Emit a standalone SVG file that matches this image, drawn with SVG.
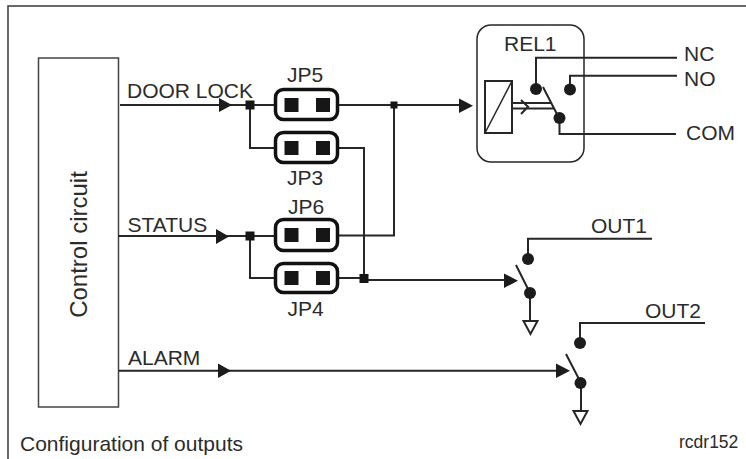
<svg xmlns="http://www.w3.org/2000/svg" width="746" height="459" viewBox="0 0 746 459">
<style>
text{font-family:"Liberation Sans",Arial,sans-serif;fill:#2b2b2b;font-size:21px}
.w{fill:none;stroke:#262626;stroke-width:2}
.t{fill:none;stroke:#262626;stroke-width:1.5}
.j{fill:none;stroke:#111;stroke-width:3.5}
.p{fill:#161616}
.a{fill:#1c1c1c}
.d{fill:#1c1c1c}
</style>
<rect width="746" height="459" fill="#fff"/>
<rect id="frame" x="8" y="6" width="760" height="480" fill="none" stroke="#444" stroke-width="1.6"/>
<g id="control"><rect x="38.500" y="58" width="80" height="349" fill="#fff" stroke="#444" stroke-width="1.5"/>
<text transform="translate(87,244.500) rotate(-90)" text-anchor="middle" style="font-size:24px">Control circuit</text></g>
<g id="connectors">
<path class="w" d="M120 105H274M339 105H460M250 105V148H274M339 148H364V278M394 105V235.500H339M118 236H274M250 236V278H274M339 278H364M364 280H505M118.500 370.700H557"/>
<path class="a" d="M219 98L232 105L219 112ZM216 229L229 236.500L216 244ZM218 363.500L231 370.700L218 378ZM459 98.500L473 105.700L459 113ZM504 273.500L518 280.700L504 288ZM556 363.500L570 370.700L556 378Z"/>
<rect class="p" x="245.500" y="100.500" width="9" height="9"/><rect class="p" x="245.500" y="231.500" width="9" height="9"/>
<rect class="p" x="390.500" y="101.500" width="7" height="7"/><rect class="p" x="359.500" y="274" width="9" height="9"/>
</g>
<g id="JP5"><rect class="j" x="275.500" y="89.500" width="62" height="30" rx="8"/><rect class="p" x="284.500" y="98" width="14" height="14"/><rect class="p" x="316" y="98" width="14" height="14"/><text x="287" y="82">JP5</text></g>
<g id="JP3"><rect class="j" x="275.500" y="132.500" width="62" height="30" rx="8"/><rect class="p" x="284.500" y="141" width="14" height="14"/><rect class="p" x="316" y="141" width="14" height="14"/><text x="287" y="185">JP3</text></g>
<g id="JP6"><rect class="j" x="275.500" y="219.500" width="62" height="31" rx="8"/><rect class="p" x="284.500" y="228" width="14" height="14"/><rect class="p" x="316" y="228" width="14" height="14"/><text x="288" y="214">JP6</text></g>
<g id="JP4"><rect class="j" x="275.500" y="263.500" width="62" height="29" rx="8"/><rect class="p" x="284.500" y="271" width="14" height="14"/><rect class="p" x="316" y="271" width="14" height="14"/><text x="287.500" y="316">JP4</text></g>
<g id="REL1"><rect class="t" x="477" y="25" width="107" height="137" rx="14"/>
<text x="504" y="50.500">REL1</text>
<rect class="w" x="485" y="81" width="27" height="52"/><path class="t" d="M485 133L512 81"/>
<path class="w" d="M512 103H552M512 108.500H554M543 87L559 118M521 100L528 106.700L521 114" stroke-width="1.500"/>
<path class="w" d="M536 89V57.700H677M570 89V75.700H677M559.500 118V134H676"/>
<circle class="d" cx="536" cy="89" r="6"/><circle class="d" cx="570" cy="89.500" r="6"/><circle class="d" cx="559.500" cy="118" r="6"/>
<text x="684" y="61">NC</text><text x="684" y="86">NO</text><text x="686" y="140">COM</text></g>
<g id="OUT1"><path class="w" d="M528 259V238.700H652M516 265L530 293M530 293V321"/>
<circle class="d" cx="528" cy="259" r="6"/><circle class="d" cx="530" cy="293" r="6"/>
<path class="w" d="M523.500 321H537.500L530.500 334Z"/><text x="591" y="232.500">OUT1</text></g>
<g id="OUT2"><path class="w" d="M580 343V323H705M566 354L581 383M581 383V411"/>
<circle class="d" cx="580" cy="343" r="6"/><circle class="d" cx="580.500" cy="383" r="6"/>
<path class="w" d="M573.500 411H587.500L580.500 424Z"/><text x="645" y="318">OUT2</text></g>
<text x="127" y="98">DOOR LOCK</text><text x="127.500" y="232">STATUS</text><text x="128" y="365">ALARM</text>
<text x="20" y="450.500">Configuration of outputs</text><text x="679" y="448" style="font-size:17.500px">rcdr152</text>
</svg>
